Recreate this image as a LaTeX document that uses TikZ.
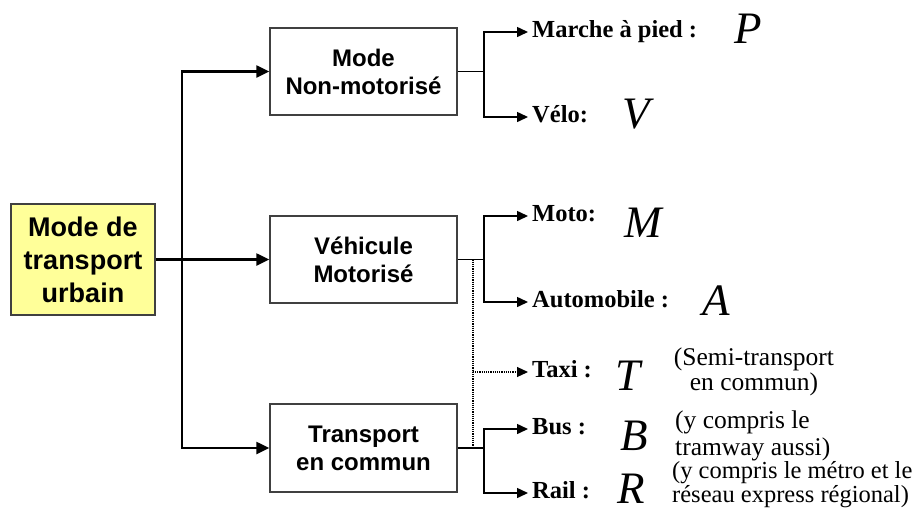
\documentclass[tikz,border=0pt]{standalone}
\usepackage{fontspec}
\setmainfont{Liberation Serif}
\newfontfamily\arialf{Liberation Sans}
\usetikzlibrary{arrows.meta}
\definecolor{rootyellow}{HTML}{FFFF99}
\begin{document}
\begin{tikzpicture}[x=1pt,y=-1pt,
  boxstyle/.style={draw=black!75, line width=1.3pt, minimum width=187pt, minimum height=87pt,
    align=center, inner sep=0pt, font=\arialf\bfseries\fontsize{24}{28}\selectfont},
  rootstyle/.style={draw=black!75, fill=rootyellow, line width=1.3pt, minimum width=144pt,
    minimum height=111pt, align=center, inner sep=0pt, font=\arialf\bfseries\fontsize{27}{33}\selectfont},
  leaf/.style={anchor=west, inner xsep=4pt, inner ysep=0pt, text height=16pt, text depth=5pt,
    font=\bfseries\fontsize{24.5}{28}\selectfont},
  letter/.style={anchor=base, inner sep=0pt, font=\itshape\fontsize{45}{45}\selectfont},
  note/.style={inner sep=0pt, font=\fontsize{25.5}{25}\selectfont},
  rootline/.style={line width=2.2pt, line join=miter, draw=black},
  leafline/.style={line width=1.5pt, draw=black},
  dotline/.style={line width=1.2pt, densely dotted, draw=black},
  bigtip/.style={-{Triangle[length=13pt,width=12pt]}},
  bigtips/.style={{Triangle[length=13pt,width=12pt]}-{Triangle[length=13pt,width=12pt]}},
  smalltip/.style={-{Triangle[length=11pt,width=10pt]}},
  smalltips/.style={{Triangle[length=11pt,width=10pt]}-{Triangle[length=11pt,width=10pt]}}
]
\useasboundingbox (0,0) rectangle (917,517);

% main nodes
\node[rootstyle] (root) at (83,259.5) {Mode de\\transport\\urbain};
\node[boxstyle] (b1) at (363.5,71.5) {Mode\\Non-motorisé};
\node[boxstyle] (b2) at (363.5,259.5) {Véhicule\\Motorisé};
\node[boxstyle, minimum height=88pt] (b3) at (363.5,448) {Transport\\en commun};

% spine
\coordinate (s2) at (182,259.5);
\draw[rootline, bigtips] (b1.west) -| (s2) |- (b3.west);
\draw[rootline, bigtip] (root.east) -- (b2.west);

% leaves
\node[leaf] (marche) at (528,32) {Marche à pied :};
\node[leaf] (velo) at (528,117) {Vélo:};
\node[leaf] (moto) at (528,216) {Moto:};
\node[leaf] (auto) at (528,302) {Automobile :};
\node[leaf] (taxi) at (528,372) {Taxi :};
\node[leaf] (bus) at (528,429) {Bus :};
\node[leaf] (rail) at (528,493) {Rail :};

% junctions
\coordinate (j1) at (484,71.5);
\coordinate (j2) at (484,259.5);
\coordinate (j3) at (484,448);
\draw[leafline] (b1.east) -- (j1);
\draw[leafline, smalltips] (marche.west) -| (j1) |- (velo.west);
\draw[leafline] (b2.east) -- (j2);
\draw[leafline, smalltips] (moto.west) -| (j2) |- (auto.west);
\draw[leafline] (b3.east) -- (j3);
\draw[leafline, smalltips] (bus.west) -| (j3) |- (rail.west);

% dotted taxi link
\coordinate (d1) at (473,259.5);
\coordinate (d2) at (473,448);
\draw[dotline] (d1) -- (d2);
\draw[dotline, smalltip] (d1) |- (taxi.west);

% italic letters
\node[letter] (lp) at (748,43) {P};
\node[letter] (lv) at (636,128) {V};
\node[letter] (lm) at (643,237) {M};
\node[letter] (la) at (716,315) {A};
\node[letter] (lt) at (628,390) {T};
\node[letter] (lb) at (634,450) {B};
\node[letter] (lr) at (631,503) {R};

% notes (base anchor = baseline of the last line)
\node[note, align=center, anchor=base] (n1) at (754,390) {(Semi-transport\\en commun)};
\node[note, align=left, anchor=base west, font=\fontsize{25.5}{27}\selectfont] (n2) at (675,455) {(y compris le\\ tramway aussi)};
\node[note, align=left, anchor=base west, font=\fontsize{24.5}{24}\selectfont] (n3) at (672,502) {(y compris le métro et le\\réseau express régional)};
\end{tikzpicture}
\end{document}
